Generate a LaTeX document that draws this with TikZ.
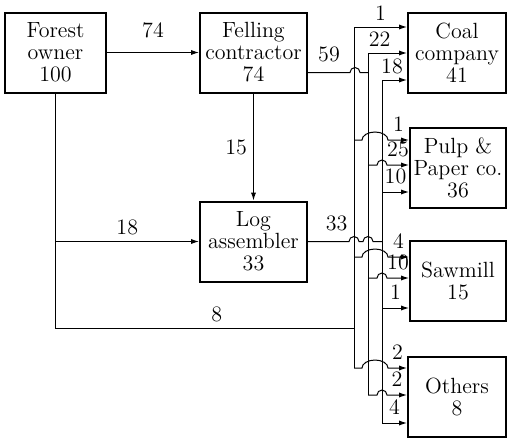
\documentclass[tikz,border=0pt]{standalone}
\usetikzlibrary{arrows.meta,positioning}

\begin{document}
\begin{tikzpicture}[
    x=0.5pt, y=-0.5pt,
    font=\fontsize{11}{11}\selectfont,
    box/.style={rectangle, draw, line width=1pt, minimum width=49pt, minimum height=40pt, inner sep=0.5pt, align=center},
    arrow/.style={-{Latex[length=4pt,width=2.6pt]}, line width=0.5pt},
    flow/.style={line width=0.5pt},
    num/.style={inner sep=1pt}
]
\useasboundingbox (0,0) rectangle (508,439);

% sources
\node[box, minimum width=50.5pt] (forest) at (55.5,52.5) {Forest\\owner\\100};
\node[box, minimum width=53.5pt] (felling) at (253.5,52.5) {Felling\\contractor\\74};
\node[box, minimum width=53.5pt] (logger) at (253.5,241.5) {Log\\assembler\\33};

% buyers
\node[box] (coal) at (457,52.5) {Coal\\company\\41};
\node[box, minimum width=48pt] (pulp) at (458,167.5) {Pulp \&\\Paper co.\\36};
\node[box, minimum width=48pt] (saw) at (458,281) {Sawmill\\15};
\node[box] (others) at (457,397) {Others\\8};

% bus points
\coordinate (a1) at (354,27);  \coordinate (a2) at (354,140);
\coordinate (a3) at (354,257); \coordinate (a4) at (354,368);
\coordinate (a8) at (354,328);
\coordinate (b1) at (368,53);  \coordinate (b2) at (368,165);
\coordinate (b3) at (368,278); \coordinate (b4) at (368,395);
\coordinate (c1) at (382,80);  \coordinate (c2) at (382,192);
\coordinate (c3) at (382,308); \coordinate (c4) at (382,423);

\draw[flow] (a1) -- (a4);
\draw[flow] (b1) -- (b4);
\draw[flow] (c1) -- (c4);

% from the forest owner
\draw[arrow] (forest.east) -- node[num, above=6pt] {74} (felling.west);
\draw[flow] (forest.south) |- node[num, above=2pt, pos=0.77] {8} (a8);
\draw[arrow] (forest.south |- logger.west) -- node[num, above=2pt] {18} (logger.west);
\draw[arrow] (felling.south) -- node[num, left=2pt] {15} (logger.north);

% into the buses
\draw[flow] ([yshift=-10pt]felling.east) coordinate (f0) -- node[num, above=4pt] {59} ++(42,0)
    arc[start angle=180, end angle=360, radius=5] -- (f0 -| b1);
\draw[flow] (logger.east) -- node[num, above=4pt, pos=0.7] {33} ++(41,0)
    arc[start angle=180, end angle=360, radius=5] -- ++(4,0)
    arc[start angle=180, end angle=360, radius=5] -- (logger.east -| c1);

% coal company
\draw[arrow] (a1) -- node[num, above=2pt] {1} (a1 -| coal.west);
\draw[arrow] (b1) -- node[num, above=2pt, pos=0.3] {22} (b1 -| coal.west);
\draw[arrow] (c1) -- node[num, above=2pt, pos=0.4] {18} (c1 -| coal.west);

% pulp and paper
\draw[arrow] (a2) -- ++(8,0) arc[start angle=180, end angle=360, x radius=13, y radius=8]
    -- node[num, above=3pt] {1} (a2 -| pulp.west);
\draw[arrow] (b2) -- ++(9,0) arc[start angle=180, end angle=360, radius=5]
    -- node[num, above=3pt] {25} (b2 -| pulp.west);
\draw[arrow] (c2) -- node[num, above=3pt] {10} (c2 -| pulp.west);

% sawmill
\draw[arrow] (a3) -- ++(8,0) arc[start angle=180, end angle=360, x radius=13, y radius=8]
    -- node[num, above=3pt] {4} (a3 -| saw.west);
\draw[arrow] (b3) -- ++(9,0) arc[start angle=180, end angle=360, radius=5]
    -- node[num, above=3pt] {10} (b3 -| saw.west);
\draw[arrow] (c3) -- node[num, above=3pt] {1} (c3 -| saw.west);

% others
\draw[arrow] (a4) -- ++(8,0) arc[start angle=180, end angle=360, x radius=13, y radius=8]
    -- node[num, above=3pt] {2} (a4 -| others.west);
\draw[arrow] (b4) -- ++(9,0) arc[start angle=180, end angle=360, radius=5]
    -- node[num, above=3pt] {2} (b4 -| others.west);
\draw[arrow] (c4) -- node[num, above=3pt] {4} (c4 -| others.west);
\end{tikzpicture}
\end{document}
